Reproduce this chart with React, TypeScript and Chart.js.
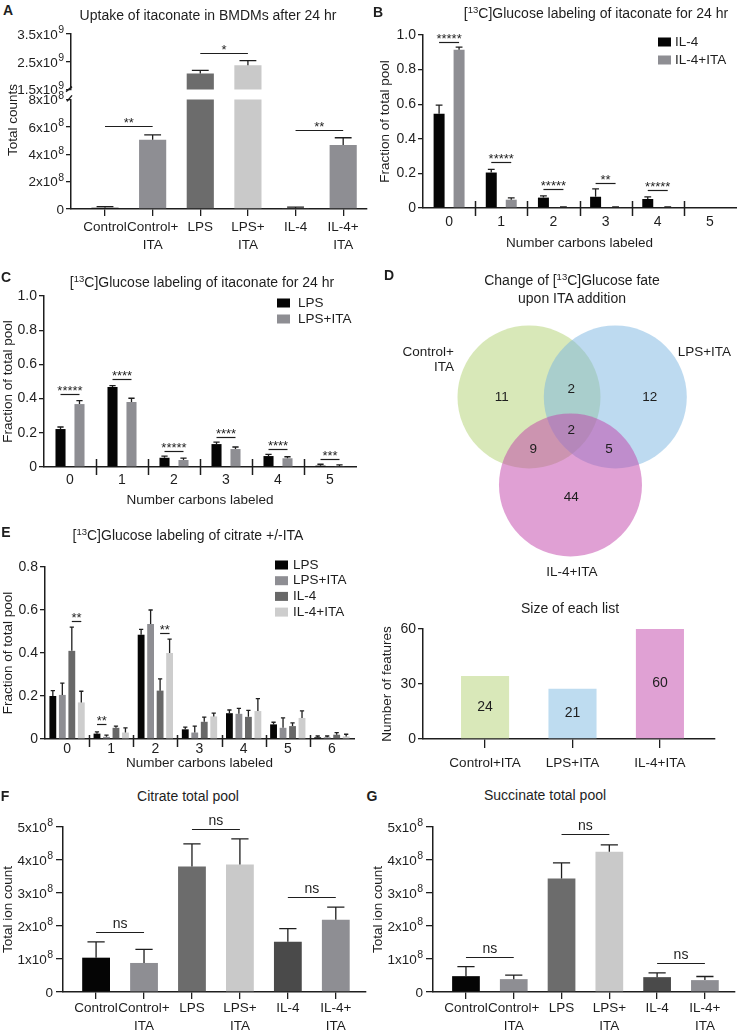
import React, { useEffect, useRef } from 'react';
import { Chart, registerables } from 'chart.js';

Chart.register(...registerables);

const FONT = "'Liberation Sans', Arial, Helvetica, sans-serif";
const INK = '#1e1e1e';

/* ---------------- data ---------------- */
const treatmentGroups = ['Control', 'Control+ITA', 'LPS', 'LPS+ITA', 'IL-4', 'IL-4+ITA'];
const treatmentColors = ['#050505', '#8e8e93', '#6c6c6c', '#c9c9c9', '#4a4a4a', '#8e8e93'];

// A: uptake of itaconate (broken axis)
const uptakeA = [1.0e7, 5.05e8, 2.08e9, 2.38e9, 0.8e7, 4.68e8];
const uptakeErrA = [0.7e7, 0.36e8, 1.1e8, 1.6e8, 0.6e7, 0.52e8];
const upperTicksA = [1.5e9, 2.5e9, 3.5e9];
const upperTickLabelsA = ['1.5x10^9', '2.5x10^9', '3.5x10^9'];
const lowerTicksA = [0, 2e8, 4e8, 6e8, 8e8];
const lowerTickLabelsA = ['0', '2x10^8', '4x10^8', '6x10^8', '8x10^8'];
const sigA = [
  { a: [0, 0], b: [0, 1], y: 6.05e8, text: '**' },
  { a: [0, 2], b: [0, 3], y: 2.83e9, text: '*' },
  { a: [0, 4], b: [0, 5], y: 5.77e8, text: '**' },
];

// B: IL-4 itaconate labeling
const carbons6 = ['0', '1', '2', '3', '4', '5'];
const il4B = [0.545, 0.205, 0.06, 0.065, 0.052, 0];
const il4ErrB = [0.05, 0.018, 0.01, 0.045, 0.012, 0];
const il4ItaB = [0.915, 0.048, 0.004, 0.004, 0.004, 0];
const il4ItaErrB = [0.015, 0.01, 0.002, 0.002, 0.002, 0];
const fracTicks = [0, 0.2, 0.4, 0.6, 0.8, 1.0];
const fracTickLabels = ['0', '0.2', '0.4', '0.6', '0.8', '1.0'];
const sigB = [
  { a: [0, 0], b: [1, 0], y: 0.96, text: '*****' },
  { a: [0, 1], b: [1, 1], y: 0.266, text: '*****' },
  { a: [0, 2], b: [1, 2], y: 0.11, text: '*****' },
  { a: [0, 3], b: [1, 3], y: 0.145, text: '**' },
  { a: [0, 4], b: [1, 4], y: 0.104, text: '*****' },
];

// C: LPS itaconate labeling
const lpsC = [0.222, 0.468, 0.054, 0.134, 0.064, 0.008];
const lpsErrC = [0.012, 0.008, 0.01, 0.012, 0.01, 0.008];
const lpsItaC = [0.368, 0.38, 0.041, 0.105, 0.051, 0.003];
const lpsItaErrC = [0.02, 0.022, 0.011, 0.012, 0.009, 0.009];
const sigC = [
  { a: [0, 0], b: [1, 0], y: 0.427, text: '*****' },
  { a: [0, 1], b: [1, 1], y: 0.515, text: '****' },
  { a: [0, 2], b: [1, 2], y: 0.094, text: '*****' },
  { a: [0, 3], b: [1, 3], y: 0.175, text: '****' },
  { a: [0, 4], b: [1, 4], y: 0.105, text: '****' },
  { a: [0, 5], b: [1, 5], y: 0.047, text: '***' },
];

// D: Venn + list sizes
const vennSets = ['Control+ITA', 'LPS+ITA', 'IL-4+ITA'];
const vennCx = [0, 1.207, 0.58];
const vennCy = [0, 0, -1.23];
const vennRadius = 1;
const vennColors = ['rgba(177,209,113,0.5)', 'rgba(123,181,225,0.5)', 'rgba(193,65,169,0.5)'];
const vennCounts = ['11', '2', '12', '2', '9', '5', '44'];
const vennCountAnchorX = [-0.38, 0.59, 1.69, 0.59, 0.06, 1.12, 0.59];
const vennCountAnchorY = [0, 0.11, 0, -0.46, -0.73, -0.73, -1.4];

const listNames = ['Control+ITA', 'LPS+ITA', 'IL-4+ITA'];
const listBarHeights = [34.3, 27.4, 60.4];
const listSizeLabels = ['24', '21', '60'];
const listColors = ['#d9e8b9', '#bedcf0', '#e0a1d4'];
const featureTicks = [0, 30, 60];
const featureTickLabels = ['0', '30', '60'];

// E: citrate labeling
const carbons7 = ['0', '1', '2', '3', '4', '5', '6'];
const lpsE = [0.2, 0.025, 0.485, 0.045, 0.12, 0.068, 0.008];
const lpsErrE = [0.025, 0.008, 0.025, 0.01, 0.015, 0.01, 0.006];
const lpsItaE = [0.205, 0.01, 0.535, 0.03, 0.117, 0.052, 0.008];
const lpsItaErrE = [0.055, 0.008, 0.065, 0.03, 0.025, 0.046, 0.006];
const il4E = [0.41, 0.052, 0.225, 0.08, 0.103, 0.06, 0.02];
const il4ErrE = [0.11, 0.008, 0.055, 0.022, 0.03, 0.015, 0.01];
const il4ItaE = [0.17, 0.03, 0.4, 0.105, 0.13, 0.098, 0.012];
const il4ItaErrE = [0.052, 0.022, 0.065, 0.015, 0.058, 0.033, 0.01];
const fracTicksE = [0, 0.2, 0.4, 0.6, 0.8];
const fracTickLabelsE = ['0', '0.2', '0.4', '0.6', '0.8'];
const sigE = [
  { a: [2, 0], b: [3, 0], y: 0.549, text: '**' },
  { a: [0, 1], b: [1, 1], y: 0.07, text: '**' },
  { a: [2, 2], b: [3, 2], y: 0.493, text: '**' },
];

// F / G: total pools
const citrateF = [1.04e8, 0.88e8, 3.8e8, 3.86e8, 1.52e8, 2.19e8];
const citrateErrF = [0.48e8, 0.41e8, 0.69e8, 0.78e8, 0.4e8, 0.38e8];
const succinateG = [0.48e8, 0.39e8, 3.44e8, 4.25e8, 0.45e8, 0.36e8];
const succinateErrG = [0.29e8, 0.12e8, 0.47e8, 0.21e8, 0.13e8, 0.11e8];
const ionTicks = [0, 1e8, 2e8, 3e8, 4e8, 5e8];
const ionTickLabels = ['0', '1x10^8', '2x10^8', '3x10^8', '4x10^8', '5x10^8'];
const sigF = [
  { a: [0, 0], b: [0, 1], y: 1.82e8, text: 'ns' },
  { a: [0, 2], b: [0, 3], y: 4.94e8, text: 'ns' },
  { a: [0, 4], b: [0, 5], y: 2.88e8, text: 'ns' },
];
const sigG = [
  { a: [0, 0], b: [0, 1], y: 1.06e8, text: 'ns' },
  { a: [0, 2], b: [0, 3], y: 4.79e8, text: 'ns' },
  { a: [0, 4], b: [0, 5], y: 0.88e8, text: 'ns' },
];

/* ---------------- helpers ---------------- */
const tickFont = { family: FONT, size: 14, lineHeight: 1.2 };
const axisTitleFont = { family: FONT, size: 13.5, lineHeight: 1.2 };
const catFont = { family: FONT, size: 13.5, lineHeight: 1.2 };
const labelFont = { family: FONT, size: 13.5, lineHeight: 1.33 };

function splitLabel(s: string): any {
  const i = s.indexOf('+');
  return i >= 0 ? [s.slice(0, i + 1), s.slice(i + 1)] : s;
}

function makeExtras(o: any) {
  return {
    id: 'extras',
    afterDatasetsDraw(chart: any) {
      const ctx = chart.ctx;
      const area = chart.chartArea;
      const ys = chart.scales.y;
      ctx.save();
      ctx.strokeStyle = INK;
      ctx.fillStyle = INK;
      if (o.errors) {
        ctx.lineWidth = 1.3;
        o.errors.forEach((errs: number[], di: number) => {
          const meta = chart.getDatasetMeta(di);
          const raw = chart.data.datasets[di].data;
          meta.data.forEach((bar: any, i: number) => {
            const e = errs[i];
            const d = raw[i];
            const v = typeof d === 'number' ? d : d.y;
            if (!e || v < ys.min || v > ys.max) return;
            const y0 = ys.getPixelForValue(v);
            const y1 = ys.getPixelForValue(Math.min(v + e, ys.max));
            const half = (bar.width * 0.62) / 2;
            ctx.beginPath();
            ctx.moveTo(bar.x, y0);
            ctx.lineTo(bar.x, y1);
            ctx.moveTo(bar.x - half, y1);
            ctx.lineTo(bar.x + half, y1);
            ctx.stroke();
          });
        });
      }
      if (o.sig) {
        o.sig.forEach((s: any) => {
          if (s.y < ys.min || s.y > ys.max) return;
          const pa = chart.getDatasetMeta(s.a[0]).data[s.a[1]];
          const pb = chart.getDatasetMeta(s.b[0]).data[s.b[1]];
          const y = Math.round(ys.getPixelForValue(s.y)) + 0.5;
          ctx.lineWidth = 1.2;
          ctx.beginPath();
          ctx.moveTo(pa.x, y);
          ctx.lineTo(pb.x, y);
          ctx.stroke();
          const stars = /^\*+$/.test(s.text);
          ctx.font = `${stars ? 13 : 14}px ${FONT}`;
          ctx.textAlign = 'center';
          ctx.textBaseline = 'alphabetic';
          ctx.fillText(s.text, (pa.x + pb.x) / 2, y - (stars ? 0 : 5));
        });
      }
      if (o.sep) {
        const xs = chart.scales.x;
        ctx.lineWidth = 1.5;
        for (let i = 1; i < xs.ticks.length; i++) {
          const px = Math.round((xs.getPixelForTick(i - 1) + xs.getPixelForTick(i)) / 2) + 0.5;
          ctx.beginPath();
          ctx.moveTo(px, area.bottom - o.sep[0]);
          ctx.lineTo(px, area.bottom + o.sep[1]);
          ctx.stroke();
        }
      }
      if (o.barText) {
        const meta = chart.getDatasetMeta(0);
        ctx.font = `14px ${FONT}`;
        ctx.textAlign = 'center';
        ctx.textBaseline = 'middle';
        meta.data.forEach((bar: any, i: number) => {
          ctx.fillText(o.barText[i], bar.x, (bar.y + bar.base) / 2);
        });
      }
      ctx.restore();
    },
    afterDraw(chart: any) {
      const ctx = chart.ctx;
      const area = chart.chartArea;
      const ys = chart.scales.y;
      ctx.save();
      ctx.strokeStyle = INK;
      ctx.fillStyle = INK;
      if (o.supTicks) {
        const xr = area.left - o.supTicks;
        ys.ticks.forEach((t: any) => {
          const y = ys.getPixelForValue(t.value);
          const parts = String(t.label).split('^');
          ctx.font = `10.5px ${FONT}`;
          const we = parts[1] ? ctx.measureText(parts[1]).width + 0.5 : 0;
          ctx.font = `13.5px ${FONT}`;
          ctx.textAlign = 'right';
          ctx.textBaseline = 'alphabetic';
          ctx.fillText(parts[0], xr - we, y + 4.8);
          if (parts[1]) {
            ctx.font = `10.5px ${FONT}`;
            ctx.textAlign = 'left';
            ctx.fillText(parts[1], xr - we + 0.5, y - 0.6);
          }
        });
      }
      if (o.breakMark) {
        ctx.lineWidth = 1.4;
        ctx.beginPath();
        if (o.breakMark === 'bottom') {
          ctx.moveTo(area.left - 5, area.bottom + 2);
          ctx.lineTo(area.left + 1, area.bottom - 3);
        } else {
          ctx.moveTo(area.left - 4, area.top + 2);
          ctx.lineTo(area.left + 1, area.top - 4);
        }
        ctx.stroke();
      }
      if (o.legend) {
        const L = o.legend;
        ctx.font = `13.5px ${FONT}`;
        ctx.textAlign = 'left';
        ctx.textBaseline = 'middle';
        chart.data.datasets.forEach((ds: any, i: number) => {
          const y = L.y + i * L.dy;
          ctx.fillStyle = ds.backgroundColor;
          ctx.fillRect(L.x, y - L.bh / 2, L.bw, L.bh);
          ctx.fillStyle = INK;
          ctx.fillText(ds.label, L.x + L.bw + L.gap, y);
        });
      }
      if (o.texts) {
        const xs = chart.scales.x;
        ctx.fillStyle = INK;
        ctx.textBaseline = 'middle';
        o.texts.forEach((t: any) => {
          ctx.font = `13.5px ${FONT}`;
          ctx.textAlign = t.align || 'center';
          ctx.fillText(t.text, xs.getPixelForValue(t.x), ys.getPixelForValue(t.y));
        });
      }
      ctx.restore();
    },
  };
}

function yAxis(vals: number[], labels: string[], width: number, o: any = {}) {
  return {
    type: 'linear',
    position: 'left',
    min: vals[0],
    max: vals[vals.length - 1],
    z: 1,
    afterBuildTicks: (s: any) => {
      s.ticks = vals.map((v) => ({ value: v }));
    },
    afterFit: (s: any) => {
      s.width = width;
    },
    ticks: {
      callback: (_v: any, i: number) => labels[i],
      font: tickFont,
      color: o.sup ? 'rgba(0,0,0,0)' : INK,
      padding: o.pad ?? 2,
    },
    grid: { display: true, drawOnChartArea: false, drawTicks: true, tickLength: o.tickLen ?? 5, color: INK, lineWidth: 1.3 },
    border: { display: true, color: INK, width: 1.5 },
    title: o.title
      ? { display: true, text: o.title, font: axisTitleFont, color: INK, padding: { top: o.titlePad ?? 0, bottom: 0 } }
      : { display: false },
  };
}

function xLinear(names: string[], min: number, max: number, height: number, o: any = {}) {
  return {
    type: 'linear',
    position: 'bottom',
    min,
    max,
    offset: false,
    z: 1,
    display: o.display ?? true,
    afterBuildTicks: (s: any) => {
      s.ticks = names.map((_n, i) => ({ value: i }));
    },
    afterFit: (s: any) => {
      s.height = height;
    },
    ticks: {
      callback: (_v: any, i: number) => (o.split ? splitLabel(names[i]) : names[i]),
      font: o.split ? labelFont : catFont,
      color: INK,
      padding: o.pad ?? 0,
      maxRotation: 0,
      minRotation: 0,
      autoSkip: false,
    },
    grid: { display: true, offset: false, drawOnChartArea: false, drawTicks: true, tickLength: o.tickLen ?? 7, color: INK, lineWidth: 1.3 },
    border: { display: true, color: INK, width: 1.5 },
  };
}

function xGroups(height: number, pad: number, title: string, titlePad: number) {
  return {
    type: 'category',
    position: 'bottom',
    offset: true,
    z: 1,
    afterFit: (s: any) => {
      s.height = height;
    },
    ticks: { font: tickFont, color: INK, padding: pad, maxRotation: 0, minRotation: 0, autoSkip: false },
    grid: { display: true, offset: true, drawOnChartArea: false, drawTicks: false, color: INK },
    border: { display: true, color: INK, width: 1.5 },
    title: { display: true, text: title, font: axisTitleFont, color: INK, padding: { top: 0, bottom: titlePad } },
  };
}

function baseOpts(padding: any, scales: any) {
  return {
    responsive: false,
    maintainAspectRatio: false,
    animation: false,
    events: [],
    layout: { padding },
    plugins: { legend: { display: false }, tooltip: { enabled: false }, title: { display: false } },
    scales,
  };
}

const pts = (vals: number[]) => vals.map((v, i) => ({ x: i, y: v }));

/* ---------------- chart configs ---------------- */
const cfgATop = () => ({
  type: 'bar',
  data: { datasets: [{ data: pts(uptakeA), backgroundColor: treatmentColors, barPercentage: 0.57, categoryPercentage: 1, clip: 0 }] },
  options: baseOpts({ top: 14, bottom: 9, left: 0, right: 3 }, {
    x: xLinear(treatmentGroups, -0.714, 5.5, 0, { display: false }),
    y: yAxis(upperTicksA, upperTickLabelsA, 71, { sup: true, tickLen: 5 }),
  }),
  plugins: [makeExtras({ errors: [uptakeErrA], sig: sigA, supTicks: 7, breakMark: 'bottom' })],
});

const cfgABottom = () => ({
  type: 'bar',
  data: { datasets: [{ data: pts(uptakeA), backgroundColor: treatmentColors, barPercentage: 0.57, categoryPercentage: 1, clip: 0 }] },
  options: baseOpts({ top: 9, bottom: 0, left: 0, right: 3 }, {
    x: xLinear(treatmentGroups, -0.714, 5.5, 46, { split: true, tickLen: 7, pad: 2 }),
    y: yAxis(lowerTicksA, lowerTickLabelsA, 71, { sup: true, tickLen: 5 }),
  }),
  plugins: [makeExtras({ errors: [uptakeErrA], sig: sigA, supTicks: 7, breakMark: 'top' })],
});

const cfgB = () => ({
  type: 'bar',
  data: {
    labels: carbons6,
    datasets: [
      { label: 'IL-4', data: il4B, backgroundColor: '#050505', barPercentage: 0.55, categoryPercentage: 0.766 },
      { label: 'IL-4+ITA', data: il4ItaB, backgroundColor: '#8e8e93', barPercentage: 0.55, categoryPercentage: 0.766 },
    ],
  },
  options: baseOpts({ top: 15, bottom: 0, left: 3, right: 1 }, {
    x: xGroups(47, 6, 'Number carbons labeled', 4),
    y: yAxis(fracTicks, fracTickLabels, 50, { title: 'Fraction of total pool', titlePad: 4, tickLen: 5 }),
  }),
  plugins: [makeExtras({ errors: [il4ErrB, il4ItaErrB], sig: sigB, sep: [7, 8], legend: { x: 288, y: 22, dy: 18, bw: 13, bh: 9, gap: 4 } })],
});

const cfgC = () => ({
  type: 'bar',
  data: {
    labels: carbons6,
    datasets: [
      { label: 'LPS', data: lpsC, backgroundColor: '#050505', barPercentage: 0.53, categoryPercentage: 0.73 },
      { label: 'LPS+ITA', data: lpsItaC, backgroundColor: '#8e8e93', barPercentage: 0.53, categoryPercentage: 0.73 },
    ],
  },
  options: baseOpts({ top: 16, bottom: 0, left: 0, right: 14 }, {
    x: xGroups(43, 5, 'Number carbons labeled', 2),
    y: yAxis(fracTicks, fracTickLabels, 44, { title: 'Fraction of total pool', titlePad: 0, tickLen: 5 }),
  }),
  plugins: [makeExtras({ errors: [lpsErrC, lpsItaErrC], sig: sigC, sep: [8, 8], legend: { x: 277, y: 23, dy: 16, bw: 13, bh: 9, gap: 8 } })],
});

const cfgVenn = () => ({
  type: 'scatter',
  data: {
    datasets: [
      {
        label: 'sets',
        data: vennCx.map((x, i) => ({ x, y: vennCy[i] })),
        pointBackgroundColor: vennColors,
        pointBorderWidth: 0,
        pointRadius: (c: any) => {
          const s = c.chart.scales.x;
          return Math.abs(s.getPixelForValue(vennRadius) - s.getPixelForValue(0));
        },
        clip: false,
      },
    ],
  },
  options: baseOpts({ top: 0, bottom: 0, left: 0, right: 0 }, {
    x: { type: 'linear', display: false, min: -2.2238, max: 2.9091 },
    y: { type: 'linear', display: false, min: -2.6993, max: 1.3566 },
  }),
  plugins: [
    makeExtras({
      texts: [
        ...vennCounts.map((t, i) => ({ text: t, x: vennCountAnchorX[i], y: vennCountAnchorY[i] })),
        { text: splitLabel(vennSets[0])[0], x: -1.05, y: 0.63, align: 'right' },
        { text: splitLabel(vennSets[0])[1], x: -1.05, y: 0.41, align: 'right' },
        { text: vennSets[1], x: 2.08, y: 0.63, align: 'left' },
        { text: vennSets[2], x: 0.6, y: -2.45, align: 'center' },
      ],
    }),
  ],
});

const cfgList = () => ({
  type: 'bar',
  data: { datasets: [{ data: pts(listBarHeights), backgroundColor: listColors, barPercentage: 0.55, categoryPercentage: 1 }] },
  options: baseOpts({ top: 14, bottom: 0, left: 2, right: 22 }, {
    x: xLinear(listNames, -0.71, 2.63, 41, { tickLen: 9, pad: 7 }),
    y: yAxis(featureTicks, featureTickLabels, 51, { title: 'Number of features', titlePad: 7, tickLen: 5 }),
  }),
  plugins: [makeExtras({ barText: listSizeLabels })],
});

const cfgE = () => ({
  type: 'bar',
  data: {
    labels: carbons7,
    datasets: [
      { label: 'LPS', data: lpsE, backgroundColor: '#050505', barPercentage: 0.72, categoryPercentage: 0.86 },
      { label: 'LPS+ITA', data: lpsItaE, backgroundColor: '#8e8e93', barPercentage: 0.72, categoryPercentage: 0.86 },
      { label: 'IL-4', data: il4E, backgroundColor: '#686868', barPercentage: 0.72, categoryPercentage: 0.86 },
      { label: 'IL-4+ITA', data: il4ItaE, backgroundColor: '#cdcdcd', barPercentage: 0.72, categoryPercentage: 0.86 },
    ],
  },
  options: baseOpts({ top: 17, bottom: 0, left: 0, right: 16 }, {
    x: xGroups(36, 2, 'Number carbons labeled', 4),
    y: yAxis(fracTicksE, fracTickLabelsE, 45, { title: 'Fraction of total pool', titlePad: 0, tickLen: 5 }),
  }),
  plugins: [makeExtras({ errors: [lpsErrE, lpsItaErrE, il4ErrE, il4ItaErrE], sig: sigE, sep: [4, 8], legend: { x: 275, y: 15, dy: 15.7, bw: 13, bh: 9, gap: 5 } })],
});

const cfgPool = (vals: number[], errs: number[], sig: any[], right: number) => () => ({
  type: 'bar',
  data: { datasets: [{ data: pts(vals), backgroundColor: treatmentColors, barPercentage: 0.58, categoryPercentage: 1 }] },
  options: baseOpts({ top: 17, bottom: 0, left: 0, right }, {
    x: xLinear(treatmentGroups, -0.69, 5.63, 39, { split: true, tickLen: 7, pad: 0 }),
    y: yAxis(ionTicks, ionTickLabels, 63, { sup: true, title: 'Total ion count', titlePad: 0, tickLen: 7 }),
  }),
  plugins: [makeExtras({ errors: [errs], sig, supTicks: 10 })],
});

/* ---------------- components ---------------- */
function ChartBox({ left, top, width, height, make }: any) {
  const ref = useRef<HTMLCanvasElement>(null);
  useEffect(() => {
    const chart = new Chart(ref.current as HTMLCanvasElement, make() as any);
    return () => chart.destroy();
  }, []);
  return <canvas ref={ref} width={width} height={height} style={{ position: 'absolute', left, top, width, height }} />;
}

function Txt({ x, y, children, size = 14, bold = false, rot = 0 }: any) {
  return (
    <div
      style={{
        position: 'absolute',
        left: x,
        top: y,
        transform: `translate(-50%, -50%) rotate(${rot}deg)`,
        font: `${bold ? 700 : 400} ${size}px ${FONT}`,
        color: INK,
        whiteSpace: 'nowrap',
        lineHeight: 1,
      }}
    >
      {children}
    </div>
  );
}

const Sup = ({ children }: any) => <span style={{ fontSize: 9.5, position: 'relative', top: -5 }}>{children}</span>;

export default function App() {
  return (
    <div style={{ position: 'absolute', left: 0, top: 0, width: 737, height: 1031, background: '#fff', overflow: 'hidden' }}>
      <ChartBox left={0} top={20} width={370} height={80} make={cfgATop} />
      <ChartBox left={0} top={89} width={370} height={166} make={cfgABottom} />
      <ChartBox left={370} top={20} width={367} height={235} make={cfgB} />
      <ChartBox left={0} top={280} width={370} height={230} make={cfgC} />
      <ChartBox left={370} top={300} width={367} height={290} make={cfgVenn} />
      <ChartBox left={370} top={615} width={367} height={165} make={cfgList} />
      <ChartBox left={0} top={550} width={370} height={225} make={cfgE} />
      <ChartBox left={0} top={810} width={370} height={221} make={cfgPool(citrateF, citrateErrF, sigF, 4)} />
      <ChartBox left={370} top={810} width={367} height={221} make={cfgPool(succinateG, succinateErrG, sigG, 2)} />

      <Txt x={8} y={10} size={14} bold>A</Txt>
      <Txt x={208} y={15}>Uptake of itaconate in BMDMs after 24 hr</Txt>
      <Txt x={13} y={120} size={13.5} rot={-90}>Total counts</Txt>

      <Txt x={378} y={12} size={14} bold>B</Txt>
      <Txt x={596} y={13}>[<Sup>13</Sup>C]Glucose labeling of itaconate for 24 hr</Txt>

      <Txt x={6} y={277} size={14} bold>C</Txt>
      <Txt x={202} y={282}>[<Sup>13</Sup>C]Glucose labeling of itaconate for 24 hr</Txt>

      <Txt x={389} y={275} size={14} bold>D</Txt>
      <Txt x={572} y={280}>Change of [<Sup>13</Sup>C]Glucose fate</Txt>
      <Txt x={572} y={298}>upon ITA addition</Txt>
      <Txt x={570} y={608}>Size of each list</Txt>

      <Txt x={6} y={532} size={14} bold>E</Txt>
      <Txt x={188} y={535}>[<Sup>13</Sup>C]Glucose labeling of citrate +/-ITA</Txt>

      <Txt x={5} y={796} size={14} bold>F</Txt>
      <Txt x={188} y={796}>Citrate total pool</Txt>

      <Txt x={372} y={796} size={14} bold>G</Txt>
      <Txt x={545} y={795}>Succinate total pool</Txt>
    </div>
  );
}
